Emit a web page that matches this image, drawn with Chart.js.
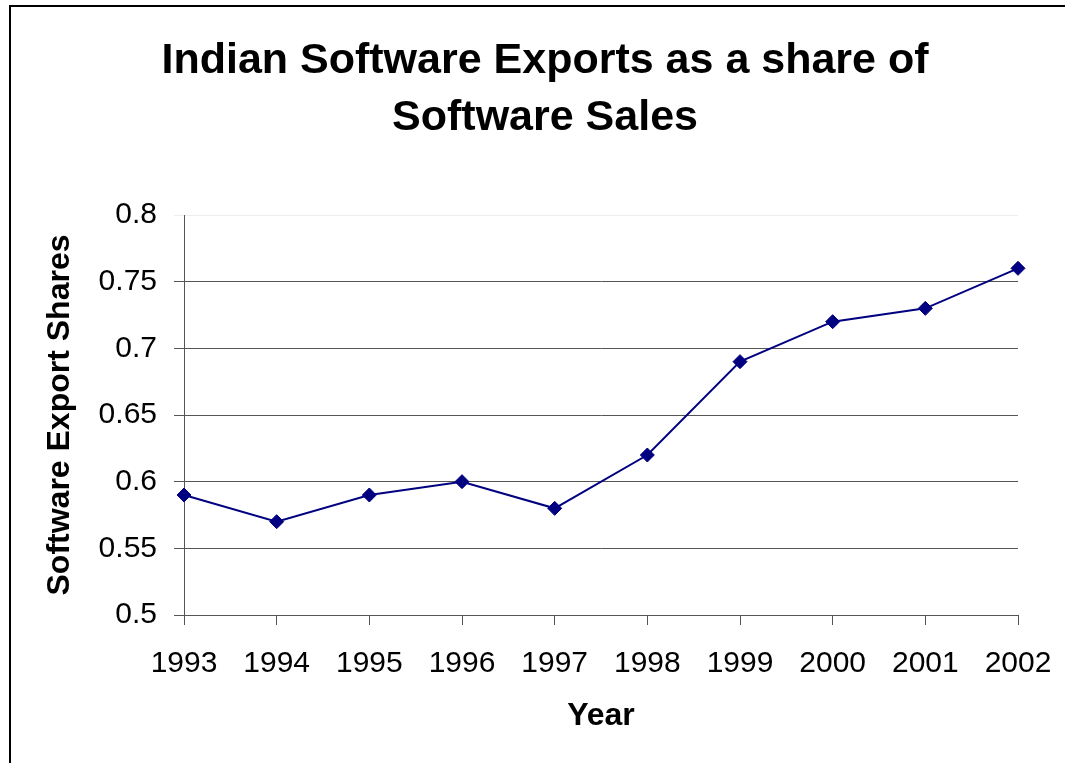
<!DOCTYPE html>
<html>
<head>
<meta charset="utf-8">
<script src="https://cdn.jsdelivr.net/npm/chart.js@4/dist/chart.umd.min.js"></script>
<style>
  html, body { margin: 0; padding: 0; background: #fff; overflow: hidden; }
  #wrap { position: relative; width: 1065px; height: 763px; }
</style>
</head>
<body>
<div id="wrap"><canvas id="c" width="1065" height="763"></canvas></div>
<script>
const years = ['1993', '1994', '1995', '1996', '1997', '1998', '1999', '2000', '2001', '2002'];
const exportShares = [0.59, 0.57, 0.59, 0.60, 0.58, 0.62, 0.69, 0.72, 0.73, 0.76];
const yTickValues = [0.5, 0.55, 0.6, 0.65, 0.7, 0.75, 0.8];
const yTickLabels = ['0.5', '0.55', '0.6', '0.65', '0.7', '0.75', '0.8'];
const chartTitle = ['Indian Software Exports as a share of', 'Software Sales'];
const xTitle = 'Year';
const yTitle = 'Software Export Shares';

const FONT = '"Liberation Sans", Arial, sans-serif';

const framePlugin = {
  id: 'frame',
  beforeDraw(chart) {
    const ctx = chart.ctx;
    ctx.save();
    ctx.fillStyle = '#ffffff';
    ctx.fillRect(0, 0, chart.width, chart.height);
    ctx.strokeStyle = '#000000';
    ctx.lineWidth = 2;
    ctx.strokeRect(10, 6, chart.width + 40, chart.height + 40);
    ctx.restore();
  }
};

new Chart(document.getElementById('c'), {
  type: 'line',
  data: {
    labels: years,
    datasets: [{
      data: exportShares,
      borderColor: '#000080',
      backgroundColor: '#000080',
      borderWidth: 2,
      tension: 0,
      pointStyle: 'rectRot',
      pointRadius: 7,
      pointHoverRadius: 7,
      pointBorderWidth: 1,
      pointBorderColor: '#000080',
      pointBackgroundColor: '#000080'
    }]
  },
  options: {
    responsive: false,
    animation: false,
    events: [],
    layout: { padding: { left: 72, right: 47, top: 0, bottom: 0 } },
    plugins: {
      legend: { display: false },
      tooltip: { enabled: false },
      title: {
        display: true,
        text: chartTitle,
        color: '#000',
        font: { family: FONT, size: 43, weight: 'bold', lineHeight: 57 / 43 },
        padding: { top: 32.5, bottom: 68.5 }
      }
    },
    scales: {
      x: {
        offset: false,
        afterFit(scale) { scale.height = 148; scale.paddingLeft = 0; scale.paddingRight = 0; },
        grid: { drawOnChartArea: false, drawTicks: true, tickLength: 10, color: '#555', lineWidth: 1 },
        border: { display: true, color: '#555', width: 1 },
        ticks: {
          color: '#000', autoSkip: false, maxRotation: 0, minRotation: 0, padding: 21,
          font: { family: FONT, size: 30 }
        },
        title: {
          display: true, text: xTitle, color: '#000',
          font: { family: FONT, size: 32, weight: 'bold', lineHeight: 1.2 },
          padding: { top: 0, bottom: 27.8 }
        }
      },
      y: {
        min: 0.5,
        max: 0.8,
        afterFit(scale) { scale.width = 112; },
        afterBuildTicks(scale) { scale.ticks = yTickValues.map(v => ({ value: v })); },
        grid: {
          drawTicks: true, tickLength: 10, lineWidth: 1,
          color: ctx => (ctx.tick && ctx.tick.value === 0.8) ? '#eeeeee' : '#555'
        },
        border: { display: true, color: '#555', width: 1 },
        ticks: {
          color: '#000', padding: 17,
          font: { family: FONT, size: 30 },
          callback: (v, i) => yTickLabels[i]
        },
        title: {
          display: true, text: yTitle, color: '#000',
          font: { family: FONT, size: 32, weight: 'bold', lineHeight: 1.2 },
          padding: { top: -31.2, bottom: 0 }
        }
      }
    }
  },
  plugins: [framePlugin]
});
</script>
</body>
</html>
